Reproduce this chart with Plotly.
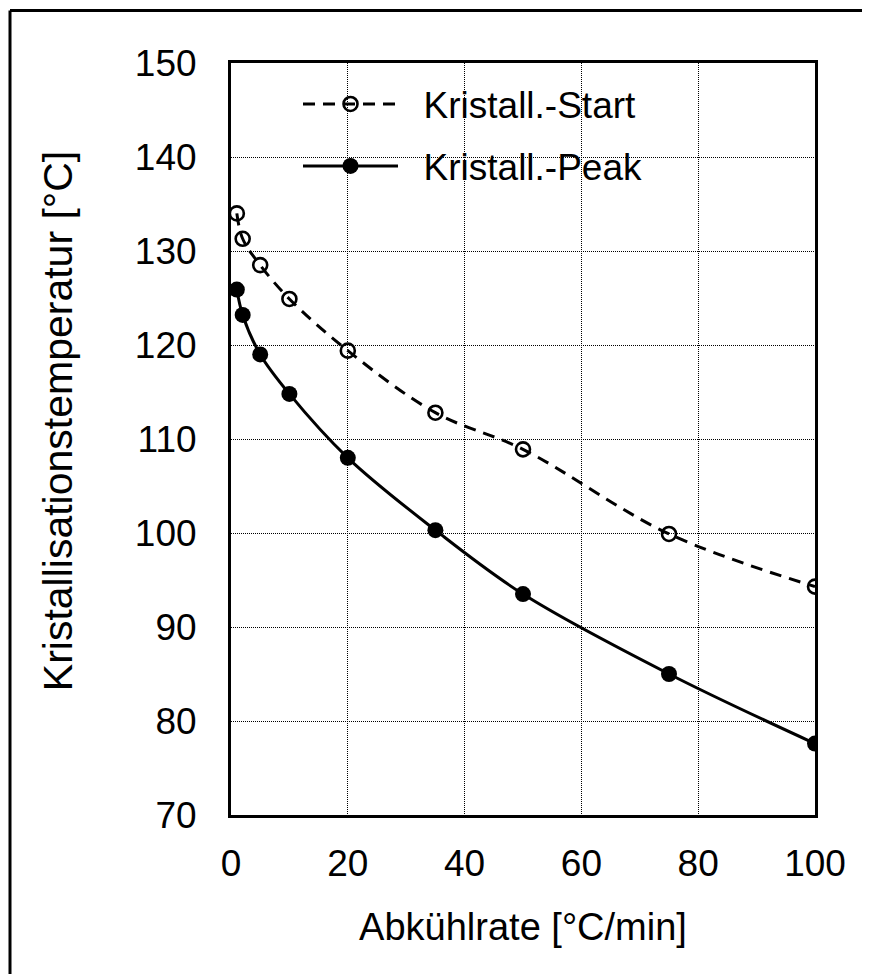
import plotly.graph_objects as go

rate = [1, 2, 5, 10, 20, 35, 50, 75, 100]
start_temp = [134.0, 131.3, 128.5, 124.9, 119.4, 112.8, 108.9, 99.9, 94.3]
peak_temp = [125.9, 123.2, 119.0, 114.8, 108.0, 100.3, 93.5, 85.0, 77.6]
x_ticks = [0, 20, 40, 60, 80, 100]
y_ticks = [70, 80, 90, 100, 110, 120, 130, 140, 150]

FONT = "Liberation Sans, Arial, sans-serif"
NB = "\u00a0\u00a0"

# plot area in pixels
L, R, T, B = 231, 815, 62.6, 815
W, H = 869, 974
pw, ph = R - L, B - T

fig = go.Figure()
fig.add_trace(go.Scatter(
    x=rate, y=start_temp, name=NB + "Kristall.-Start", mode="lines+markers",
    line=dict(color="black", width=3, dash="12px,8px", shape="spline", smoothing=1),
    marker=dict(symbol="circle-open", size=14, color="black", line=dict(width=2.6, color="black")),
    legend="legend", showlegend=True,
))
fig.add_trace(go.Scatter(
    x=rate, y=peak_temp, name=NB + "Kristall.-Peak", mode="lines+markers",
    line=dict(color="black", width=3, shape="spline", smoothing=1),
    marker=dict(symbol="circle", size=16, color="black"),
    legend="legend2", showlegend=True,
))

def px2paper_x(px):
    return (px - L) / pw

def px2paper_y(py):
    return 1 - (py - T) / ph

axis_common = dict(
    showline=True, linecolor="black", linewidth=3, mirror=True,
    showgrid=True, gridcolor="black", gridwidth=1, griddash="1px,1px",
    zeroline=False, ticks="", tickfont=dict(family=FONT, size=37, color="black"),
)

fig.update_xaxes(
    range=[0, 100], tickvals=x_ticks, ticktext=[str(v) for v in x_ticks],
    title=dict(text="Abkühlrate [°C/min]", font=dict(family=FONT, size=38, color="black"), standoff=30),
    ticklabelstandoff=14,
    **axis_common,
)
fig.update_yaxes(
    range=[70, 150], tickvals=y_ticks, ticktext=[str(v) for v in y_ticks],
    ticklabelstandoff=24,
    **axis_common,
)

legend_common = dict(
    xanchor="left", yanchor="middle", bgcolor="rgba(0,0,0,0)", borderwidth=0,
    font=dict(family=FONT, size=37, color="black"), itemwidth=95,
)
fig.update_layout(
    width=W, height=H,
    margin=dict(l=L, r=W - R, t=T, b=H - B, autoexpand=False),
    paper_bgcolor="white", plot_bgcolor="white",
    showlegend=True,
    legend=dict(x=px2paper_x(298), y=px2paper_y(104), **legend_common),
    legend2=dict(x=px2paper_x(298), y=px2paper_y(166), **legend_common),
    annotations=[dict(
        text="Kristallisationstemperatur [°C]", textangle=-90, showarrow=False,
        xref="paper", yref="paper", x=px2paper_x(58), y=px2paper_y(421),
        xanchor="center", yanchor="middle",
        font=dict(family=FONT, size=41, color="black"),
    )],
    shapes=[
        dict(type="line", xref="paper", yref="paper",
             x0=px2paper_x(10), x1=px2paper_x(862), y0=px2paper_y(10), y1=px2paper_y(10),
             line=dict(color="black", width=3)),
        dict(type="line", xref="paper", yref="paper",
             x0=px2paper_x(10), x1=px2paper_x(10), y0=px2paper_y(10), y1=px2paper_y(974),
             line=dict(color="black", width=3)),
    ],
)

fig.write_html("out.html", config={"displayModeBar": False})
